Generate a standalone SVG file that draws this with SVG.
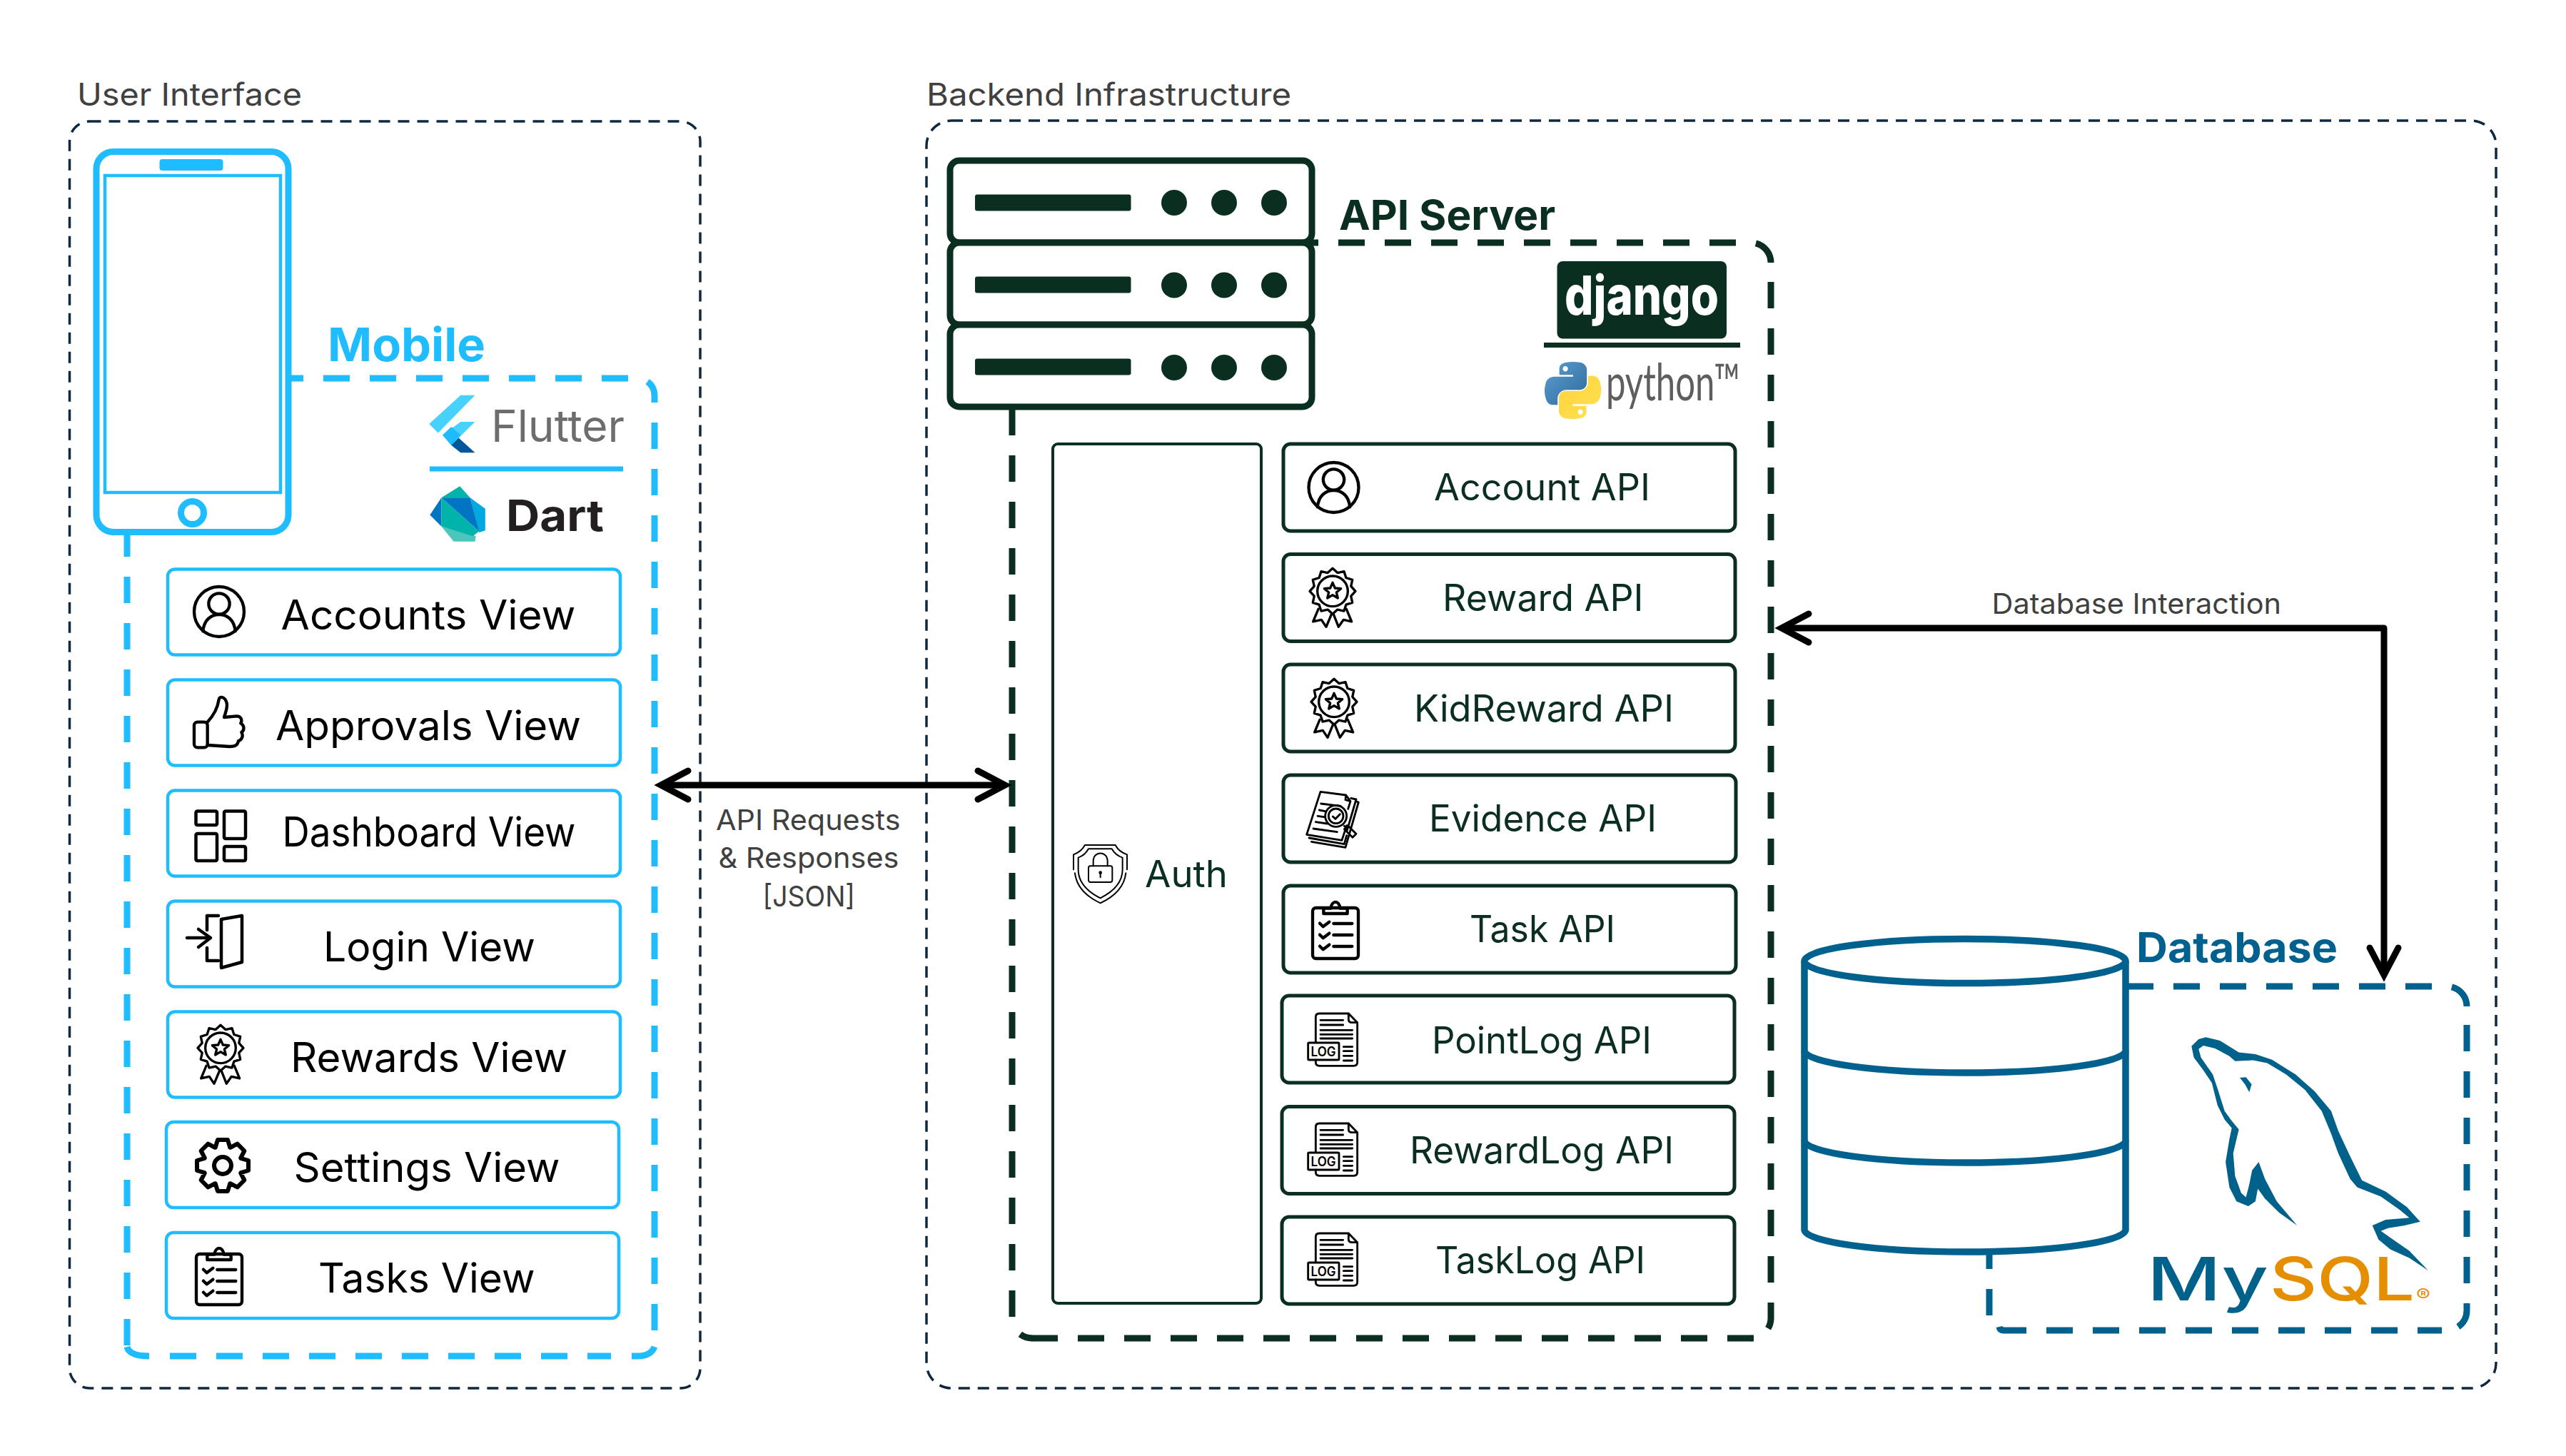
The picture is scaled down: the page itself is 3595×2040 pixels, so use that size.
<svg xmlns="http://www.w3.org/2000/svg" width="3595" height="2040" viewBox="0 0 3595 2040">
<style>
text{font-family:Inter,"Noto Sans","Liberation Sans",sans-serif}
.border{fill:none;stroke:#0e2841;stroke-width:3.5;stroke-dasharray:16 11}
.blue{fill:none;stroke:#1fbcff;stroke-width:9}
.green{fill:none;stroke:#0a2e20;stroke-width:9}
.navy{fill:none;stroke:#00618f;stroke-width:9}
.dash{stroke-dasharray:37 28}
.vbox{fill:#fff;stroke:#1fbcff;stroke-width:4.5}
.abox{fill:#fff;stroke:#0a2e20;stroke-width:5}
.v{font-size:57px;fill:#000}
.a{font-size:52px;fill:#0a2e20}
.l{font-size:44px;fill:#404040}
.n{font-size:40px;fill:#404040}
.b{font-weight:700}
.ic{fill:none;stroke:#000;stroke-width:13;stroke-linecap:round;stroke-linejoin:round}
.thin{stroke-width:8.5}
.med{stroke-width:10}
.log{font-size:18.5px;font-weight:600;fill:#000}
.conn{fill:none;stroke:#000;stroke-width:9;stroke-linejoin:round}
.sv{fill:#0a2e20}
</style>
<defs>
<marker id="open" markerUnits="userSpaceOnUse" viewBox="-50 -30 60 60" refX="0" refY="0" markerWidth="60" markerHeight="60" orient="auto-start-reverse">
<path d="M-38,-20 L0,0 L-38,20" fill="none" stroke="#000" stroke-width="9" stroke-linecap="round" stroke-linejoin="miter"/>
</marker>
<linearGradient id="py1" x1="0" y1="0" x2="1" y2="1"><stop offset="0" stop-color="#5a9fd4"/><stop offset="1" stop-color="#306998"/></linearGradient>
<linearGradient id="py2" x1="0" y1="0" x2="1" y2="1"><stop offset="0" stop-color="#ffe052"/><stop offset="1" stop-color="#ffd43b"/></linearGradient>
<g id="ic-user" class="ic"><circle r="105"/><circle cy="-33" r="44"/><path d="M-68,82 C-64,36 -35,12 0,12 C35,12 64,36 68,82"/></g>
<g id="ic-badge" class="ic med">
<path transform="translate(132,130)" d="M0,-96 L20.7,-77.3 L48,-83.1 L56.6,-56.6 L83.1,-48 L77.3,-20.7 L96,0 L77.3,20.7 L83.1,48 L56.6,56.6 L48,83.1 L20.7,77.3 L0,96 L-20.7,77.3 L-48,83.1 L-56.6,56.6 L-83.1,48 L-77.3,20.7 L-96,0 L-77.3,-20.7 L-83.1,-48 L-56.6,-56.6 L-48,-83.1 L-20.7,-77.3 Z"/>
<circle cx="132" cy="130" r="64"/>
<path transform="translate(132,130)" d="M0,-36 L10,-13 L35,-11 L16,5 L22,29 L0,16 L-22,29 L-16,5 L-35,-11 L-10,-13 Z"/>
<path d="M72,205 L50,258 L85,250 L105,280 L128,225 M190,205 L212,258 L178,250 L157,280 L135,225"/>
</g>
<g id="ic-clip" class="ic">
<rect x="-96" y="-87" width="192" height="213" rx="14"/>
<path d="M-50,-63 V-85 H-20 C-15,-120 15,-120 20,-85 H50 V-63 Z"/>
<path d="M-66,-22 l14,14 l26,-20 M-66,26 l14,14 l26,-20 M-66,74 l14,14 l26,-20 M-8,-21 H70 M-8,27 H70 M-8,75 H70"/>
</g>
<g id="ic-log" class="ic">
<path class="thin" d="M70,150 V45 Q70,30 85,30 H208 L245,68 V235 Q245,250 230,250 H85 Q70,250 70,235 V225 M208,30 V55 Q208,68 222,68 H245"/>
<path class="thin" d="M90,58 H185 M90,78 H185 M90,100 H224 M90,118 H224 M90,135 H224 M187,170 H224 M187,188 H224 M187,208 H224 M187,228 H224"/>
<rect class="thin" x="38" y="153" width="130" height="72" rx="4"/>
</g>
</defs>
<rect width="3595" height="2040" fill="#fff"/>

<g id="user-interface">
<rect class="border" x="97.5" y="170" width="883.5" height="1775" rx="28"/>
<text class="l" x="108" y="148" textLength="315" lengthAdjust="spacingAndGlyphs">User Interface</text>
</g>
<g id="backend-infrastructure">
<rect class="border" x="1298" y="169" width="2199" height="1776" rx="35"/>
<text class="l" x="1298" y="148" textLength="511" lengthAdjust="spacingAndGlyphs">Backend Infrastructure</text>
</g>

<g id="mobile">
<path class="blue dash" d="M388,530 H893 A24,24 0 0 1 917,554 V564"/>
<path class="blue dash" d="M917,592 V1878"/>
<path class="blue dash" d="M178,743 V1885"/>
<path class="blue" d="M178,1887 Q181,1900 209,1900"/>
<path class="blue dash" d="M238,1900 H856"/>
<path class="blue" d="M885,1900 H893 Q912,1900 917,1887"/>
<g id="phone">
<rect x="135" y="212.500" width="269" height="533" rx="24" fill="#fff" stroke="#1fbcff" stroke-width="9"/>
<rect x="223.500" y="223" width="89" height="16" rx="4" fill="#1fbcff"/>
<rect x="147" y="246" width="246" height="444" fill="none" stroke="#1fbcff" stroke-width="4.500"/>
<circle cx="269.500" cy="718.500" r="16" fill="none" stroke="#1fbcff" stroke-width="9"/>
</g>
<text class="b" x="459" y="506" font-size="65" fill="#1fbcff" textLength="221" lengthAdjust="spacingAndGlyphs">Mobile</text>
<g id="flutter-logo" transform="translate(80,90) scale(.574)">
<polygon points="1020,808 985,808 908,878 930,900" fill="#47d1fd"/>
<polygon points="1020,873 985,873 941,905 962,930" fill="#47d1fd"/>
<polygon points="941,905 962,885 985,905 962,930" fill="#1fbcfd"/>
<polygon points="980,912 1020,948 985,948 962,930" fill="#02569b"/>
</g>
<text x="688" y="619" font-size="62" fill="#6d6d6d" textLength="187" lengthAdjust="spacingAndGlyphs">Flutter</text>
<rect x="602" y="653.500" width="271" height="7" fill="#1fbcff"/>
<g id="dart-logo" transform="translate(80,90) scale(.574)">
<polygon points="1008,1058 1045,1085 1045,1138 1030,1143" fill="#02a9e0"/>
<polygon points="938,1128 968,1165 1020,1165 1022,1152" fill="#4dc4bc"/>
<polygon points="938,1058 983,1030 1008,1058" fill="#00b4ab"/>
<polygon points="938,1058 910,1100 938,1128" fill="#0175c2"/>
<polygon points="938,1058 1030,1140 1015,1152 938,1128" fill="#00b4ab"/>
<polygon points="938,1058 1008,1058 1030,1140" fill="#0175c2"/>
</g>
<text class="b" x="709" y="744" font-size="61" fill="#231f20" textLength="137" lengthAdjust="spacingAndGlyphs">Dart</text>
</g>

<g id="accounts-view"><rect class="vbox" x="235" y="797.500" width="634" height="120" rx="10"/>
<use href="#ic-user" transform="translate(307,857) scale(.3333)"/>
<text class="v" x="393.500" y="882" textLength="413" lengthAdjust="spacingAndGlyphs">Accounts View</text></g>
<g id="approvals-view"><rect class="vbox" x="235" y="952.500" width="634" height="120" rx="10"/>
<g class="ic" transform="translate(250,960) scale(.3333)"><rect x="66" y="155" width="56" height="107" rx="14"/><path d="M122,155 C150,125 165,95 170,60 C172,46 195,45 203,75 C208,100 195,120 192,135 L245,130 C262,130 270,145 262,160 C278,170 278,190 265,198 C275,215 265,230 252,235 C248,255 235,258 215,258 L122,252"/></g>
<text class="v" x="386" y="1037" textLength="428" lengthAdjust="spacingAndGlyphs">Approvals View</text></g>
<g id="dashboard-view"><rect class="vbox" x="235" y="1107.500" width="634" height="120" rx="10"/>
<g fill="none" stroke="#000" stroke-width="4.500">
<rect x="274.500" y="1136.500" width="29.500" height="19.500" rx="2"/><rect x="274.500" y="1168" width="29.500" height="38" rx="2"/><rect x="314" y="1136.500" width="30" height="38.500" rx="2"/><rect x="314" y="1186" width="30" height="20" rx="2"/></g>
<text class="v" x="395.500" y="1186" textLength="411" lengthAdjust="spacingAndGlyphs">Dashboard View</text></g>
<g id="login-view"><rect class="vbox" x="235" y="1262.500" width="634" height="120" rx="10"/>
<g fill="none" stroke="#000" stroke-width="4.500" stroke-linecap="round" stroke-linejoin="round">
<path d="M262,1314 H295 M278,1302 L295,1314 L278,1327"/><path d="M310,1288 L339,1283 V1348 L310,1356 Z"/><path d="M306,1283 H290 V1303 M290,1328 V1346 H306"/></g>
<text class="v" x="453" y="1347" textLength="297" lengthAdjust="spacingAndGlyphs">Login View</text></g>
<g id="rewards-view"><rect class="vbox" x="235" y="1417.500" width="634" height="120" rx="10"/>
<use href="#ic-badge" transform="translate(265,1425) scale(.3333)"/>
<text class="v" x="407" y="1502" textLength="388" lengthAdjust="spacingAndGlyphs">Rewards View</text></g>
<g id="settings-view"><rect class="vbox" x="233" y="1572" width="634" height="120" rx="10"/>
<g class="ic" style="stroke-width:18" transform="translate(312,1633) scale(.3333)"><path d="M-30.700,-76 L-21,-108 L21,-108 L30.700,-76 L32,-75.500 L61.500,-91.200 L91.200,-61.500 L75.500,-32 L76,-30.700 L108,-21 L108,21 L76,30.700 L75.500,32 L91.200,61.500 L61.500,91.200 L32,75.500 L30.700,76 L21,108 L-21,108 L-30.700,76 L-32,75.500 L-61.500,91.200 L-91.200,61.500 L-75.500,32 L-76,30.700 L-108,21 L-108,-21 L-76,-30.700 L-75.500,-32 L-91.200,-61.500 L-61.500,-91.200 L-32,-75.500 Z"/><circle r="36"/></g>
<text class="v" x="411.500" y="1656" textLength="373" lengthAdjust="spacingAndGlyphs">Settings View</text></g>
<g id="tasks-view"><rect class="vbox" x="233" y="1727" width="634" height="120" rx="10"/>
<use href="#ic-clip" transform="translate(307,1786) scale(.3333)"/>
<text class="v" x="446" y="1811" textLength="303.500" lengthAdjust="spacingAndGlyphs">Tasks View</text></g>

<g id="api-server">
<path class="green dash" d="M1810,340 H2453 A28,28 0 0 1 2481,368"/>
<path class="green dash" d="M2481,395 V1847 A28,28 0 0 1 2453,1875"/>
<path class="green dash" d="M1418,573 V1847 A28,28 0 0 0 1446,1875"/>
<path class="green dash" d="M1445,1875 H2457"/>
<g id="server-icon">
<rect class="green" style="fill:#fff" x="1331" y="225" width="507" height="115" rx="13"/>
<rect class="green" style="fill:#fff" x="1331" y="340" width="507" height="115" rx="13"/>
<rect class="green" style="fill:#fff" x="1331" y="455" width="507" height="115" rx="13"/>
<rect class="sv" x="1366" y="272.500" width="218.500" height="23" rx="3"/><rect class="sv" x="1366" y="387.500" width="218.500" height="23" rx="3"/><rect class="sv" x="1366" y="502.500" width="218.500" height="23" rx="3"/>
<circle class="sv" cx="1645" cy="284" r="18"/><circle class="sv" cx="1715" cy="284" r="18"/><circle class="sv" cx="1785" cy="284" r="18"/>
<circle class="sv" cx="1645" cy="399.500" r="18"/><circle class="sv" cx="1715" cy="399.500" r="18"/><circle class="sv" cx="1785" cy="399.500" r="18"/>
<circle class="sv" cx="1645" cy="515" r="18"/><circle class="sv" cx="1715" cy="515" r="18"/><circle class="sv" cx="1785" cy="515" r="18"/>
</g>
<text class="b" x="1876" y="322" font-size="58" fill="#0a2e20" textLength="303" lengthAdjust="spacingAndGlyphs">API Server</text>
<rect class="sv" x="2181.500" y="366" width="237.500" height="108.500" rx="8"/>
<text x="2192" y="441" font-size="76" font-weight="800" fill="#fff" textLength="216" lengthAdjust="spacingAndGlyphs">django</text>
<rect class="sv" x="2163" y="480" width="275" height="7"/>
<g id="python-logo" transform="translate(2164,507) scale(.72,.727)">
<path fill="url(#py1)" fill-rule="evenodd" d="M54.900,0 C50.300,0 46,.4 42.100,1.100 C30.700,3.100 28.700,7.300 28.700,15 V25.200 H55.500 V28.600 H18.600 C10.800,28.600 4,33.300 1.900,42.200 C-.6,52.400 -.7,58.700 1.900,69.300 C3.800,77.200 8.300,82.800 16.100,82.800 H25.300 V70.600 C25.300,61.700 33,53.900 42.100,53.900 H68.800 C76.300,53.900 82.200,47.800 82.200,40.300 V15 C82.200,7.800 76.100,2.300 68.800,1.100 C64.200,.3 59.400,0 54.900,0 Z M40.400,8.200 C43.200,8.200 45.400,10.500 45.400,13.300 C45.400,16.100 43.200,18.400 40.400,18.400 C37.600,18.400 35.400,16.100 35.400,13.300 C35.400,10.500 37.600,8.200 40.400,8.200 Z"/>
<path fill="url(#py2)" fill-rule="evenodd" transform="rotate(180 55 55)" d="M54.900,0 C50.300,0 46,.4 42.100,1.100 C30.700,3.100 28.700,7.300 28.700,15 V25.200 H55.500 V28.600 H18.600 C10.800,28.600 4,33.300 1.900,42.200 C-.6,52.400 -.7,58.700 1.900,69.300 C3.800,77.200 8.300,82.800 16.100,82.800 H25.300 V70.600 C25.300,61.700 33,53.900 42.100,53.900 H68.800 C76.300,53.900 82.200,47.800 82.200,40.300 V15 C82.200,7.800 76.100,2.300 68.800,1.100 C64.200,.3 59.400,0 54.900,0 Z M40.400,8.200 C43.200,8.200 45.400,10.500 45.400,13.300 C45.400,16.100 43.200,18.400 40.400,18.400 C37.600,18.400 35.400,16.100 35.400,13.300 C35.400,10.500 37.600,8.200 40.400,8.200 Z"/>
</g>
<text x="2250" y="561" font-size="72" fill="#5e5e5e" style="font-family:Lato,Inter,sans-serif" textLength="188" lengthAdjust="spacingAndGlyphs">python™</text>
</g>

<g id="auth"><rect class="abox" style="stroke-width:4" x="1475" y="622" width="292" height="1204" rx="7"/>
<g class="ic" style="stroke-width:6" transform="translate(1480,1160) scale(.3333)">
<path d="M72,175 V112 Q105,100 120,72 H248 Q262,100 297,112 V175 M78,190 C85,250 130,290 185,316 C240,290 285,250 292,190"/>
<path d="M92,175 V125 Q120,115 135,88 H233 Q248,115 278,125 V175 C278,230 235,270 185,295 C135,270 92,230 92,175 Z"/>
<rect x="135" y="160" width="100" height="68" rx="8"/>
<path d="M155,160 V140 C155,95 215,95 215,140 V160 M185,188 V208"/><circle cx="185" cy="188" r="4"/>
</g>
<text class="a" x="1604" y="1243" textLength="116" lengthAdjust="spacingAndGlyphs">Auth</text></g>

<g id="account-api"><rect class="abox" x="1798" y="622" width="633" height="122" rx="10"/>
<use href="#ic-user" transform="translate(1868.500,683) scale(.3333)"/>
<text class="a" x="2009" y="701" textLength="303" lengthAdjust="spacingAndGlyphs">Account API</text></g>
<g id="reward-api"><rect class="abox" x="1798" y="776.500" width="633" height="122" rx="10"/>
<use href="#ic-badge" transform="translate(1823,785) scale(.3333)"/>
<text class="a" x="2021" y="855.500" textLength="281.500" lengthAdjust="spacingAndGlyphs">Reward API</text></g>
<g id="kidreward-api"><rect class="abox" x="1798" y="931" width="633" height="122" rx="10"/>
<use href="#ic-badge" transform="translate(1825,940) scale(.3333)"/>
<text class="a" x="1981" y="1011" textLength="364" lengthAdjust="spacingAndGlyphs">KidReward API</text></g>
<g id="evidence-api"><rect class="abox" x="1798" y="1086" width="634" height="122" rx="10"/>
<g class="ic thin" transform="translate(1820,1100) scale(.3333)">
<path d="M200,170 L180,232 L32,208 L90,28 L197,42 L216,68 L206,100 M197,42 L195,62 L216,68"/>
<path d="M218,55 L240,60 L202,190 M42,222 L190,248 L200,212"/>
<path d="M52,238 L195,262 L250,72 L238,68"/>
<path d="M92,78 L175,88 M85,105 L110,110 M78,130 L105,134 M70,155 L118,162 M60,183 L160,197"/>
<circle cx="155" cy="130" r="45"/><circle cx="155" cy="130" r="31"/>
<path d="M142,132 L153,142 L172,122 M190,172 L200,180"/>
<path d="M190,185 L205,170 L240,205 L225,220 Z"/>
</g>
<text class="a" x="2002" y="1165" textLength="319" lengthAdjust="spacingAndGlyphs">Evidence API</text></g>
<g id="task-api"><rect class="abox" x="1798" y="1241" width="634" height="122" rx="10"/>
<use href="#ic-clip" transform="translate(1871,1301) scale(.3333)"/>
<text class="a" x="2059" y="1320" textLength="204" lengthAdjust="spacingAndGlyphs">Task API</text></g>
<g id="pointlog-api"><rect class="abox" x="1796" y="1395" width="634" height="122" rx="10"/>
<use href="#ic-log" transform="translate(1820,1410) scale(.3333)"/>
<text class="log" x="1836.500" y="1480" textLength="35" lengthAdjust="spacingAndGlyphs">LOG</text>
<text class="a" x="2006" y="1475.500" textLength="308" lengthAdjust="spacingAndGlyphs">PointLog API</text></g>
<g id="rewardlog-api"><rect class="abox" x="1796" y="1550.500" width="634" height="122" rx="10"/>
<use href="#ic-log" transform="translate(1820,1564) scale(.3333)"/>
<text class="log" x="1836.500" y="1634" textLength="35" lengthAdjust="spacingAndGlyphs">LOG</text>
<text class="a" x="1975" y="1630" textLength="370" lengthAdjust="spacingAndGlyphs">RewardLog API</text></g>
<g id="tasklog-api"><rect class="abox" x="1796" y="1705" width="634" height="122" rx="10"/>
<use href="#ic-log" transform="translate(1820,1718) scale(.3333)"/>
<text class="log" x="1836.500" y="1788" textLength="35" lengthAdjust="spacingAndGlyphs">LOG</text>
<text class="a" x="2011" y="1784" textLength="294" lengthAdjust="spacingAndGlyphs">TaskLog API</text></g>

<g id="database">
<path class="navy dash" d="M2980,1382 H3428 A28,28 0 0 1 3456,1410"/>
<path class="navy dash" d="M3456,1436 V1836 A28,28 0 0 1 3428,1864"/>
<path class="navy dash" d="M2867,1864 H3421"/>
<path class="navy dash" d="M2787,1741 V1843"/>
<path class="navy" d="M2801,1859 Q2802,1864 2807,1864 H2839"/>
<g id="cylinder" fill="#fff" stroke="#00618f" stroke-width="9.500">
<path d="M2528,1346.500 V1723 C2528,1740 2629,1754 2753,1754 C2877,1754 2978,1740 2978,1723 V1346.500"/>
<ellipse cx="2753" cy="1346.500" rx="225" ry="31"/>
<path fill="none" d="M2528,1472 C2528,1489 2629,1503 2753,1503 C2877,1503 2978,1489 2978,1472"/>
<path fill="none" d="M2528,1598 C2528,1615 2629,1629 2753,1629 C2877,1629 2978,1615 2978,1598"/>
</g>
<text class="b" x="2993" y="1348" font-size="58" fill="#00618f" textLength="282" lengthAdjust="spacingAndGlyphs">Database</text>
<g id="mysql-logo" transform="translate(2480,1280) scale(.6633,.3954)" fill="#00618a">
<path d="M905,445 L920,438 L950,450 L990,492 L1025,498 L1060,518 L1110,570 L1150,630 L1185,700 L1200,770 L1225,860 L1250,945 L1300,985 L1345,1040 L1373,1092 L1340,1105 L1305,1115 L1290,1125 L1320,1160 L1350,1195 L1390,1265 L1350,1220 L1310,1190 L1285,1155 L1272,1105 L1300,1085 L1350,1078 L1330,1050 L1290,1003 L1240,970 L1225,940 L1200,850 L1185,780 L1165,700 L1130,625 L1090,570 L1050,530 L1020,520 L982,523 L970,505 L940,478 L915,468 L905,480 L910,510 L935,570 L945,620 L960,700 L975,735 L990,765 L985,800 L978,850 L982,930 L995,990 L1005,1005 L1012,960 L1018,910 L1032,880 L1045,940 L1070,1020 L1113,1105 L1075,1060 L1045,1010 L1030,975 L1025,1020 L1010,1037 L985,1020 L970,970 L962,880 L970,800 L975,760 L960,730 L945,680 L933,600 L915,555 L895,510 L890,470 Z"/>
<path d="M992,582 L1005,580 L1017,605 L1012,633 L1003,605 Z"/>
</g>
<text x="3008" y="1822" font-size="84" font-weight="500" fill="#00618a" textLength="170" lengthAdjust="spacingAndGlyphs">My</text>
<text x="3180" y="1822" font-size="84" font-weight="500" fill="#e48e00" textLength="203" lengthAdjust="spacingAndGlyphs">SQL</text>
<text x="3385" y="1823" font-size="24" fill="#e48e00" textLength="20" lengthAdjust="spacingAndGlyphs">®</text>
</g>

<g id="connectors">
<path class="conn" d="M926,1100 H1408" marker-start="url(#open)" marker-end="url(#open)"/>
<path class="conn" d="M2496,880 H3340 V1366" marker-start="url(#open)" marker-end="url(#open)"/>
<text class="n" x="1003" y="1163" textLength="258.500" lengthAdjust="spacingAndGlyphs">API Requests</text>
<text class="n" x="1006.500" y="1216" textLength="253" lengthAdjust="spacingAndGlyphs">&amp; Responses</text>
<text class="n" x="1068.500" y="1270" textLength="129.500" lengthAdjust="spacingAndGlyphs">[JSON]</text>
<text class="n" x="2790.500" y="860" textLength="405.500" lengthAdjust="spacingAndGlyphs">Database Interaction</text>
</g>
</svg>
